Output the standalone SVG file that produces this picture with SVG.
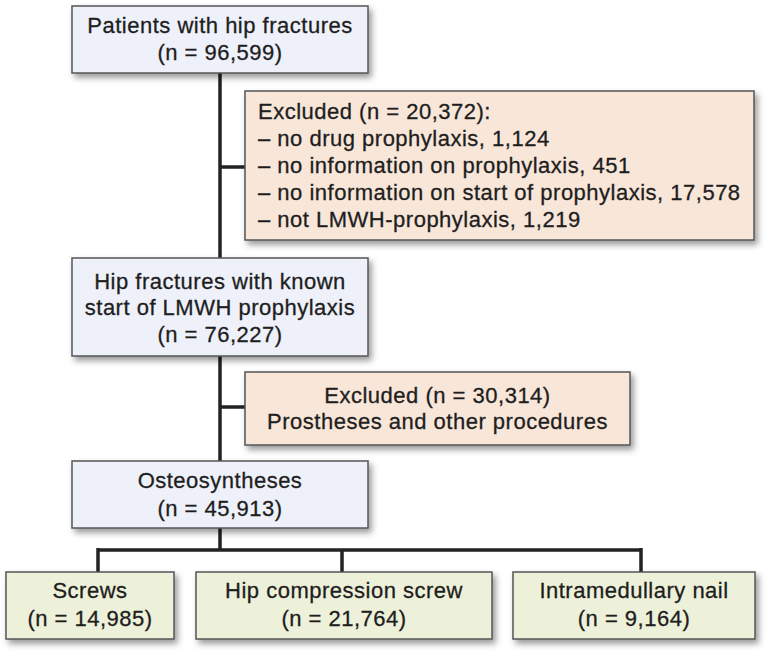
<svg xmlns="http://www.w3.org/2000/svg" width="772" height="656" viewBox="0 0 772 656">
<defs>
<filter id="sh" x="-10%" y="-20%" width="125%" height="150%">
<feDropShadow dx="3" dy="4" stdDeviation="3" flood-color="#000" flood-opacity="0.4"/>
</filter>
</defs>
<style>
.box{stroke:#555;stroke-width:1.5;filter:url(#sh)}
.blue{fill:#eef1f9}
.orange{fill:#f8e6d9}
.green{fill:#eef1d9}
text{font-family:"Liberation Sans",Arial,sans-serif;font-size:22px;letter-spacing:0.5px;fill:#1e1e1e;stroke:#1e1e1e;stroke-width:0.3}
.c{text-anchor:middle}
.conn{stroke:#222;stroke-width:3.5;fill:none}
</style>
<rect width="772" height="656" fill="#fff"/>
<g id="connectors">
<path class="conn" d="M220 73V461M220 167H245M220 407H245M220 528V550M98 550H641M98 548V572M342 550V572M641 548V572"/>
</g>
<g id="patients">
<rect class="box blue" x="72" y="6" width="296" height="67"/>
<text class="c" x="220" y="33">Patients with hip fractures</text>
<text class="c" x="220" y="60">(n = 96,599)</text>
</g>
<g id="excluded1">
<rect class="box orange" x="245" y="91" width="509" height="149"/>
<text x="258" y="119">Excluded (n = 20,372):</text>
<text x="258" y="146">– no drug prophylaxis, 1,124</text>
<text x="258" y="173">– no information on prophylaxis, 451</text>
<text x="258" y="200">– no information on start of prophylaxis, 17,578</text>
<text x="258" y="227">– not LMWH-prophylaxis, 1,219</text>
</g>
<g id="known">
<rect class="box blue" x="72" y="258" width="296" height="98"/>
<text class="c" x="220" y="289">Hip fractures with known</text>
<text class="c" x="220" y="315">start of LMWH prophylaxis</text>
<text class="c" x="220" y="342">(n = 76,227)</text>
</g>
<g id="excluded2">
<rect class="box orange" x="245" y="372" width="385" height="73"/>
<text class="c" x="437.5" y="403">Excluded (n = 30,314)</text>
<text class="c" x="437.5" y="429">Prostheses and other procedures</text>
</g>
<g id="osteo">
<rect class="box blue" x="72" y="461" width="296" height="67"/>
<text class="c" x="220" y="488">Osteosyntheses</text>
<text class="c" x="220" y="516">(n = 45,913)</text>
</g>
<g id="screws">
<rect class="box green" x="6" y="572" width="168" height="67"/>
<text class="c" x="90" y="598">Screws</text>
<text class="c" x="90" y="626">(n = 14,985)</text>
</g>
<g id="hcs">
<rect class="box green" x="196" y="572" width="296" height="67"/>
<text class="c" x="344" y="598">Hip compression screw</text>
<text class="c" x="344" y="626">(n = 21,764)</text>
</g>
<g id="nail">
<rect class="box green" x="513" y="572" width="242" height="67"/>
<text class="c" x="634" y="598">Intramedullary nail</text>
<text class="c" x="634" y="626">(n = 9,164)</text>
</g>
</svg>
